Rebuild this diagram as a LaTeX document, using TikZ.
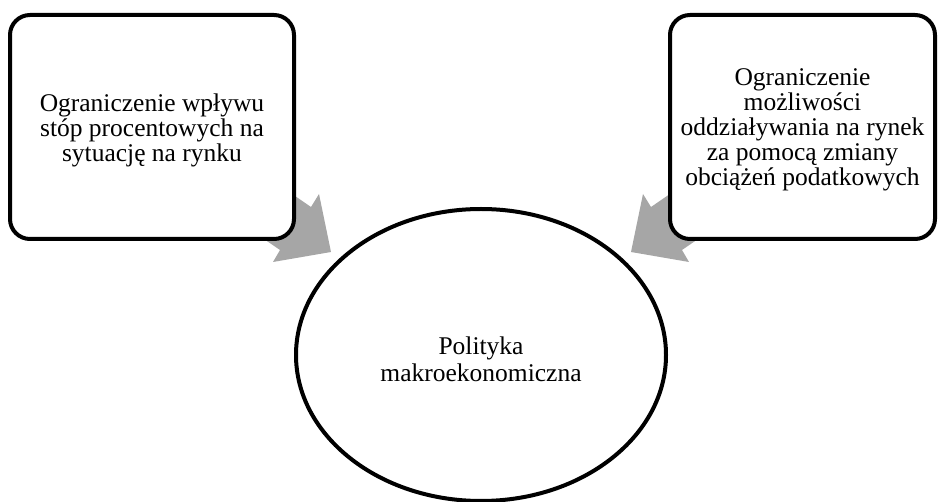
\documentclass[tikz,border=0pt]{standalone}
\usepackage{fontspec}
\setmainfont{Liberation Serif}
\usetikzlibrary{shapes.geometric}
\definecolor{arrowgray}{RGB}{166,166,166}
\begin{document}
\begin{tikzpicture}[x=1pt,y=-1pt,
  box/.style={draw=black,line width=4pt,fill=white,rounded corners=20pt,inner sep=0pt},
  oval/.style={draw=black,line width=4pt,fill=white,ellipse,inner sep=0pt},
  boxtext/.style={align=center,inner sep=0pt,font=\fontsize{25.5}{25}\selectfont},
  ovaltext/.style={align=center,inner sep=0pt,font=\fontsize{25.5}{27}\selectfont},
  blockarrow/.style={fill=arrowgray,draw=none}]
\useasboundingbox (0,0) rectangle (940,502);
% arrows (behind boxes)
\fill[blockarrow] (261,172.6) -- (311,207) -- (319,194) -- (331,252) -- (273,262) -- (280,250) -- (231,216.4) -- cycle;
\fill[blockarrow] (701,172.6) -- (651,207) -- (643,194) -- (631,252) -- (689,262) -- (682,250) -- (731,216.4) -- cycle;
% shapes
\node[box,minimum width=284pt,minimum height=224pt] (left) at (152,127) {};
\node[box,minimum width=265pt,minimum height=224pt] (right) at (802.5,127) {};
\node[oval,minimum width=370pt,minimum height=292pt] (center) at (481,355) {};
% texts
\node[boxtext] (lefttext) at ([yshift=-3pt]left.center)
  {Ograniczenie wpływu\\stóp procentowych na\\sytuację na rynku};
\node[boxtext] (righttext) at ([yshift=-3pt]right.center)
  {Ograniczenie\\możliwości\\oddziaływania na rynek\\za pomocą zmiany\\obciążeń podatkowych};
\node[ovaltext] (centertext) at ([yshift=-4pt]center.center)
  {Polityka\\makroekonomiczna};
\end{tikzpicture}
\end{document}
